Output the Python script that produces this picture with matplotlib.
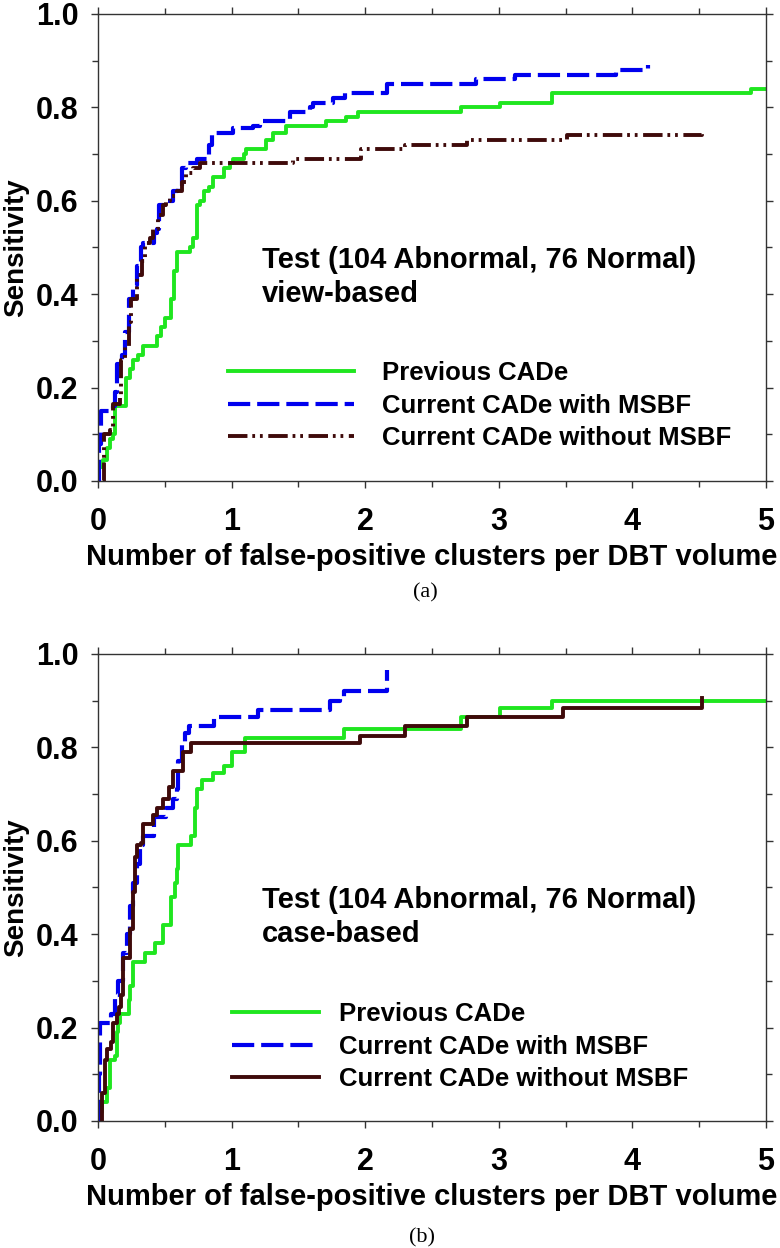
import matplotlib
matplotlib.use("Agg")
import matplotlib.pyplot as plt
from matplotlib.ticker import MultipleLocator, FormatStrFormatter

plt.rcParams['font.family'] = ['Liberation Sans', 'DejaVu Sans']
plt.rcParams['font.weight'] = 'bold'
plt.rcParams['lines.scale_dashes'] = False

# ---- data: (FP per volume, sensitivity) step points ----
# (a) view-based
a_prev_x = [0.01, 0.04, 0.065, 0.09, 0.115, 0.13, 0.21, 0.24, 0.26, 0.30, 0.34, 0.44, 0.47, 0.50,
            0.55, 0.57, 0.59, 0.69, 0.71, 0.74, 0.76, 0.79, 0.83, 0.86, 0.94, 0.99, 1.01, 1.09,
            1.11, 1.26, 1.31, 1.41, 1.71, 1.86, 1.95, 2.72, 3.01, 3.40, 4.89, 5.0]
a_prev_y = [0.03, 0.045, 0.07, 0.09, 0.10, 0.16, 0.22, 0.24, 0.26, 0.27, 0.29, 0.31, 0.33, 0.35,
            0.39, 0.45, 0.49, 0.50, 0.52, 0.59, 0.60, 0.62, 0.63, 0.65, 0.67, 0.68, 0.69, 0.70,
            0.71, 0.73, 0.745, 0.76, 0.77, 0.78, 0.79, 0.80, 0.81, 0.83, 0.84, 0.84]

a_msbf_x = [0.0, 0.005, 0.02, 0.115, 0.13, 0.14, 0.18, 0.20, 0.23, 0.26, 0.29, 0.32, 0.34, 0.42,
            0.44, 0.46, 0.50, 0.56, 0.60, 0.63, 0.66, 0.74, 0.83, 0.85, 1.01, 1.16, 1.21, 1.44,
            1.59, 1.61, 1.76, 1.85, 2.16, 2.83, 3.12, 3.88, 4.12]
a_msbf_y = [0.0, 0.08, 0.15, 0.16, 0.19, 0.25, 0.27, 0.32, 0.39, 0.42, 0.46, 0.50, 0.51, 0.53,
            0.54, 0.59, 0.60, 0.62, 0.63, 0.67, 0.68, 0.69, 0.72, 0.745, 0.755, 0.76, 0.77, 0.79,
            0.80, 0.81, 0.82, 0.83, 0.85, 0.86, 0.87, 0.88, 0.89]

a_nomsbf_x = [0.04, 0.045, 0.09, 0.115, 0.165, 0.175, 0.20, 0.23, 0.25, 0.29, 0.33, 0.35, 0.39,
              0.41, 0.45, 0.49, 0.51, 0.54, 0.59, 0.63, 0.66, 0.71, 0.76, 1.46, 1.97, 2.30, 2.76,
              3.51, 4.52]
a_nomsbf_y = [0.0, 0.10, 0.11, 0.165, 0.18, 0.26, 0.29, 0.34, 0.39, 0.44, 0.47, 0.51, 0.52,
              0.54, 0.57, 0.59, 0.60, 0.61, 0.62, 0.64, 0.66, 0.67, 0.68, 0.69, 0.71, 0.72, 0.73,
              0.74, 0.75]

# (b) case-based
b_prev_x = [0.01, 0.03, 0.07, 0.09, 0.13, 0.14, 0.15, 0.165, 0.23, 0.24, 0.26, 0.35, 0.43, 0.49,
            0.55, 0.575, 0.59, 0.60, 0.70, 0.73, 0.74, 0.78, 0.86, 0.94, 1.0, 1.10, 1.84, 2.72,
            3.01, 3.40, 5.0]
b_prev_y = [0.02, 0.04, 0.07, 0.13, 0.14, 0.19, 0.21, 0.23, 0.26, 0.29, 0.34, 0.36, 0.38, 0.42,
            0.48, 0.51, 0.54, 0.59, 0.61, 0.67, 0.71, 0.73, 0.745, 0.76, 0.79, 0.82, 0.84, 0.865,
            0.885, 0.90, 0.90]

b_msbf_x = [0.0, 0.005, 0.015, 0.10, 0.13, 0.15, 0.19, 0.215, 0.24, 0.265, 0.29, 0.315, 0.34,
            0.42, 0.51, 0.56, 0.59, 0.60, 0.63, 0.65, 0.68, 0.87, 1.20, 1.74, 1.81, 1.84, 2.16]
b_msbf_y = [0.0, 0.10, 0.21, 0.23, 0.27, 0.30, 0.36, 0.40, 0.46, 0.51, 0.55, 0.59, 0.61,
            0.65, 0.67, 0.69, 0.71, 0.77, 0.81, 0.83, 0.845, 0.865, 0.88, 0.90, 0.905, 0.92, 0.965]

b_nomsbf_x = [0.027, 0.03, 0.05, 0.065, 0.10, 0.115, 0.14, 0.155, 0.17, 0.19, 0.24, 0.265, 0.275,
              0.29, 0.32, 0.34, 0.41, 0.44, 0.49, 0.53, 0.565, 0.64, 0.70, 1.96, 2.30, 2.76,
              3.48, 4.52]
b_nomsbf_y = [0.0, 0.06, 0.13, 0.155, 0.17, 0.21, 0.23, 0.245, 0.27, 0.35, 0.41, 0.49, 0.565,
              0.59, 0.595, 0.635, 0.655, 0.67, 0.69, 0.715, 0.75, 0.79, 0.81, 0.825, 0.845, 0.865,
              0.885, 0.905]

labels = ['Previous CADe', 'Current CADe with MSBF', 'Current CADe without MSBF']
GREEN = '#1fe61f'
BLUE = '#0000ee'
BROWN = '#3f0a0a'


def panel(ax, curves, brown_dash, subtitle, leg_anchor, handlelen, textpad):
    (px, py), (mx, my), (nx, ny) = curves
    ax.plot(px, py, drawstyle='steps-post', color=GREEN, lw=2.8, label=labels[0])
    ax.plot(mx, my, drawstyle='steps-post', color=BLUE, lw=3.0, ls=(0, (16, 5)), label=labels[1])
    ax.plot(nx, ny, drawstyle='steps-post', color=BROWN, lw=2.8, ls=brown_dash, label=labels[2])

    ax.set_xlim(0, 5)
    ax.set_ylim(0, 1)
    ax.xaxis.set_major_locator(MultipleLocator(1))
    ax.xaxis.set_minor_locator(MultipleLocator(0.5))
    ax.yaxis.set_major_locator(MultipleLocator(0.2))
    ax.yaxis.set_minor_locator(MultipleLocator(0.1))
    ax.yaxis.set_major_formatter(FormatStrFormatter('%.1f'))
    ax.tick_params(which='both', direction='out', top=True, right=True, color='#333333', width=1)
    ax.tick_params(which='major', length=5)
    ax.tick_params(which='minor', length=4)
    ax.tick_params(axis='y', labelsize=22, pad=9)
    ax.tick_params(axis='x', labelsize=22, pad=14)
    for s in ax.spines.values():
        s.set_color('#333333')
        s.set_linewidth(1)

    ax.set_xlabel('Number of false-positive clusters per DBT volume', fontsize=21,
                  fontweight='bold', labelpad=4)
    ax.set_ylabel('Sensitivity', fontsize=20, fontweight='bold', labelpad=5)

    ax.text(1.23, 0.473, 'Test (104 Abnormal, 76 Normal)', fontsize=21, va='center')
    ax.text(1.23, 0.40, subtitle, fontsize=21, va='center')

    ax.legend(loc='upper left', bbox_to_anchor=leg_anchor, frameon=False, fontsize=18.5,
              borderpad=0, borderaxespad=0, handlelength=handlelen, handletextpad=textpad,
              labelspacing=0.33)


fig = plt.figure(figsize=(7.8, 12.48), dpi=100)
ax1 = fig.add_axes([0.1256, 0.6146, 0.8564, 0.3742])
ax2 = fig.add_axes([0.1256, 0.1018, 0.8564, 0.3742])

panel(ax1, [(a_prev_x, a_prev_y), (a_msbf_x, a_msbf_y), (a_nomsbf_x, a_nomsbf_y)],
      (0, (14, 3.5, 2, 3.5, 2, 4)), 'view-based', (0.195, 0.256), 4.9, 1.1)
panel(ax2, [(b_prev_x, b_prev_y), (b_msbf_x, b_msbf_y), (b_nomsbf_x, b_nomsbf_y)],
      '-', 'case-based', (0.2, 0.254), 3.4, 0.8)

fig.text(0.545, 1 - 593 / 1248, '(a)', fontsize=16, fontweight='normal',
         family='Liberation Serif', ha='center', va='center')
fig.text(0.541, 1 - 1238 / 1248, '(b)', fontsize=16, fontweight='normal',
         family='Liberation Serif', ha='center', va='center')

fig.savefig('out.png', dpi=100)
